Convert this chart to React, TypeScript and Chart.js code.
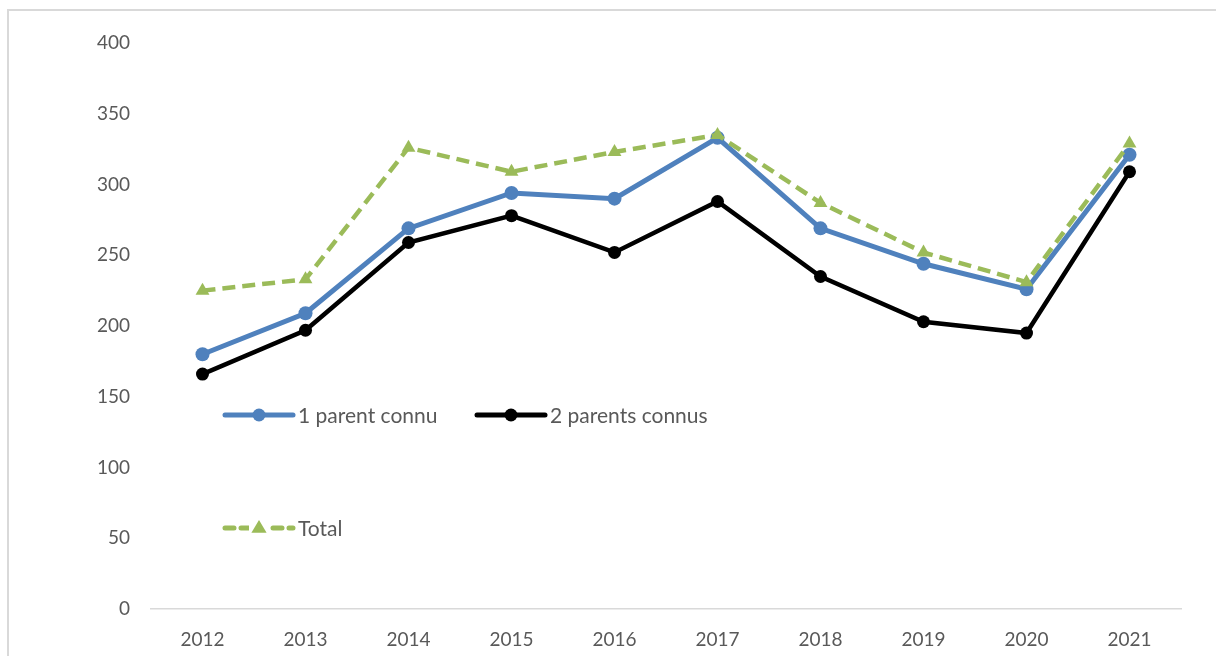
import React, { useEffect, useRef } from "react";
import { Chart, registerables } from "chart.js";

Chart.register(...registerables);

const years = ["2012", "2013", "2014", "2015", "2016", "2017", "2018", "2019", "2020", "2021"];
const oneParent = [180, 209, 269, 294, 290, 333, 269, 244, 226, 321];
const twoParents = [166, 197, 259, 278, 252, 288, 235, 203, 195, 309];
const total = [225, 233, 326, 309, 323, 335, 287, 252, 231, 329];

const BLUE = "#4f81bd";
const BLACK = "#000000";
const GREEN = "#9bbb59";
const TEXT = "#595959";
const FONT = "Lato, 'Open Sans', sans-serif";
const FONT_SIZE = 19;
const LEGEND_FONT_SIZE = 21;

const legendItems = [
  { label: "1 parent connu", color: BLUE, style: "circle", dash: [] as number[], x: 225, y: 415, width: 5 },
  { label: "2 parents connus", color: BLACK, style: "circle", dash: [] as number[], x: 477, y: 415, width: 5 },
  { label: "Total", color: GREEN, style: "triangle", dash: [9, 7], x: 225, y: 528, width: 5 },
];

const framePlugin = {
  id: "frame",
  beforeDraw(chart: any) {
    const ctx = chart.ctx;
    ctx.save();
    ctx.strokeStyle = "#d9d9d9";
    ctx.lineWidth = 2;
    ctx.beginPath();
    ctx.moveTo(8, chart.height);
    ctx.lineTo(8, 10);
    ctx.lineTo(chart.width, 10);
    ctx.stroke();
    ctx.restore();
  },
};

const legendPlugin = {
  id: "customLegend",
  afterDraw(chart: any) {
    const ctx = chart.ctx;
    ctx.save();
    for (const it of legendItems) {
      const len = 68;
      ctx.strokeStyle = it.color;
      ctx.lineWidth = it.width;
      ctx.lineCap = "round";
      ctx.setLineDash(it.dash);
      ctx.beginPath();
      ctx.moveTo(it.x, it.y);
      ctx.lineTo(it.x + len, it.y);
      ctx.stroke();
      ctx.setLineDash([]);
      const cx = it.x + len / 2;
      ctx.fillStyle = it.color;
      if (it.style === "circle") {
        ctx.beginPath();
        ctx.arc(cx, it.y, 6.5, 0, Math.PI * 2);
        ctx.fill();
      } else {
        ctx.fillStyle = "#ffffff";
        ctx.fillRect(cx - 10, it.y - 4, 20, 8);
        ctx.fillStyle = it.color;
        const r = 8;
        ctx.beginPath();
        ctx.moveTo(cx, it.y - r);
        ctx.lineTo(cx + r * 0.95, it.y + r * 0.6);
        ctx.lineTo(cx - r * 0.95, it.y + r * 0.6);
        ctx.closePath();
        ctx.fill();
      }
      ctx.fillStyle = TEXT;
      ctx.font = `${LEGEND_FONT_SIZE}px ${FONT}`;
      ctx.textBaseline = "middle";
      ctx.textAlign = "left";
      ctx.fillText(it.label, it.x + len + 5, it.y + 1);
    }
    ctx.restore();
  },
};

export default function App() {
  const ref = useRef<HTMLCanvasElement | null>(null);

  useEffect(() => {
    document.body.style.margin = "0";
    const canvas = ref.current;
    if (!canvas) return;
    const chart = new Chart(canvas, {
      type: "line",
      data: {
        labels: years,
        datasets: [
          {
            label: "1 parent connu",
            data: oneParent,
            borderColor: BLUE,
            backgroundColor: BLUE,
            borderWidth: 5,
            pointStyle: "circle",
            pointRadius: 7,
            pointBorderWidth: 0,
            pointBackgroundColor: BLUE,
            tension: 0,
            order: 1,
          },
          {
            label: "2 parents connus",
            data: twoParents,
            borderColor: BLACK,
            backgroundColor: BLACK,
            borderWidth: 4.5,
            pointStyle: "circle",
            pointRadius: 6.5,
            pointBorderWidth: 0,
            pointBackgroundColor: BLACK,
            tension: 0,
            order: 2,
          },
          {
            label: "Total",
            data: total,
            borderColor: GREEN,
            backgroundColor: GREEN,
            borderWidth: 4.5,
            borderDash: [13, 7],
            pointStyle: "triangle",
            pointRadius: 8,
            pointBorderWidth: 0,
            pointBackgroundColor: GREEN,
            tension: 0,
            order: 0,
          },
        ],
      },
      options: {
        responsive: false,
        animation: false,
        layout: { padding: { left: 0, top: 43, right: 35, bottom: 0 } },
        plugins: {
          legend: { display: false },
          tooltip: { enabled: false },
        },
        scales: {
          x: {
            type: "category",
            offset: true,
            grid: { display: false, drawTicks: false },
            border: { display: true, color: "#d9d9d9", width: 1.5 },
            ticks: {
              color: TEXT,
              font: { family: FONT, size: FONT_SIZE },
              padding: 19,
              maxRotation: 0,
              autoSkip: false,
            },
            afterFit(scale: any) {
              scale.height = 47;
            },
          },
          y: {
            min: 0,
            max: 400,
            grid: { display: false, drawTicks: false },
            border: { display: false },
            ticks: {
              stepSize: 50,
              color: TEXT,
              font: { family: FONT, size: FONT_SIZE },
              padding: 21,
            },
            afterFit(scale: any) {
              scale.width = 151;
            },
          },
        },
      },
      plugins: [framePlugin, legendPlugin],
    });
    return () => chart.destroy();
  }, []);

  return (
    <div style={{ position: "fixed", left: 0, top: 0, width: 1216, height: 656, background: "#fff" }}>
      <canvas ref={ref} width={1216} height={656} style={{ display: "block" }} />
    </div>
  );
}
